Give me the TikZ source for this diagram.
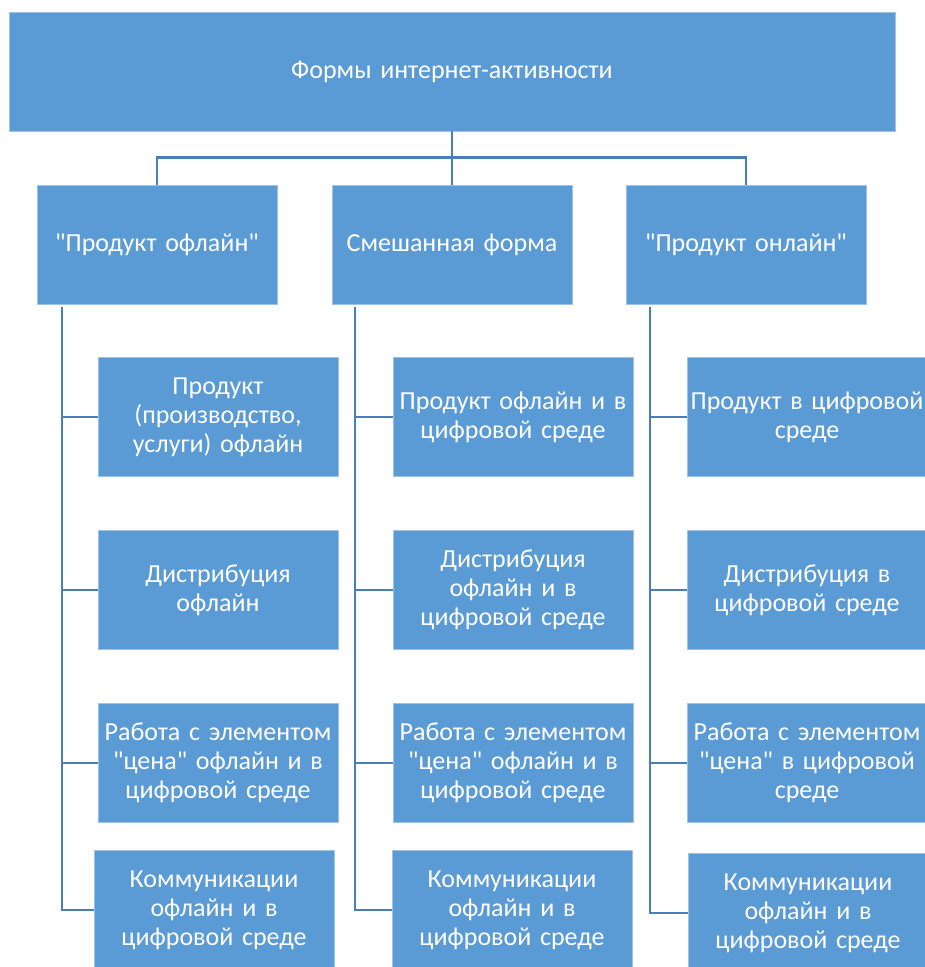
\documentclass[tikz,border=0pt]{standalone}
\usepackage{fontspec}
\setmainfont[Ligatures=TeXOff]{Carlito}
\usepackage{tikz}

\definecolor{boxblue}{HTML}{5B9BD5}
\definecolor{lineblue}{HTML}{4A7EBB}
\definecolor{edgeblue}{HTML}{9DC3E6}

\tikzset{
	block/.style={fill=boxblue, draw=edgeblue, line width=0.8pt, text=white,
		minimum width=240pt, minimum height=119pt, text width=238pt,
		inner sep=0pt, align=center, font=\fontsize{26}{29}\selectfont},
	tree/.style={draw=lineblue, line width=2.6pt}
}

\begin{document}
\begin{tikzpicture}[x=1pt, y=-1pt]
	\useasboundingbox (0,0) rectangle (925,967);
	\fill[white] (0,0) rectangle (925,967);

	% root and the three forms
	\node[block, minimum width=886pt, text width=880pt] (top) at (452,71.5) {Формы интернет-активности};
	\node[block] (off) at (157,244.5) {"Продукт офлайн"};
	\node[block] (mix) at (452,244.5) {Смешанная форма};
	\node[block] (on)  at (746,244.5) {"Продукт онлайн"};

	\foreach \n in {off,mix,on}
		\draw[tree] (top.south) -- ++(0,26) -| (\n.north);

	% offline column
	\node[block] (off1) at (218,417) {Продукт\\(производство,\\услуги) офлайн};
	\node[block] (off2) at (218,590) {Дистрибуция\\офлайн};
	\node[block] (off3) at (218,763) {Работа с элементом\\"цена" офлайн и в\\цифровой среде};
	\node[block] (off4) at (214,910) {Коммуникации\\офлайн и в\\цифровой среде};

	% mixed column
	\node[block] (mix1) at (513,417) {Продукт офлайн и в\\цифровой среде};
	\node[block] (mix2) at (513,590) {Дистрибуция\\офлайн и в\\цифровой среде};
	\node[block] (mix3) at (513,763) {Работа с элементом\\"цена" офлайн и в\\цифровой среде};
	\node[block] (mix4) at (512,910) {Коммуникации\\офлайн и в\\цифровой среде};

	% online column
	\node[block] (on1) at (807,417) {Продукт в цифровой\\среде};
	\node[block] (on2) at (807,590) {Дистрибуция в\\цифровой среде};
	\node[block] (on3) at (807,763) {Работа с элементом\\"цена" в цифровой\\среде};
	\node[block] (on4) at (808,913) {Коммуникации\\офлайн и в\\цифровой среде};

	% trunks and branches
	\foreach \n/\dx in {off/-95, mix/-97, on/-96} {
		\coordinate (\n trunk) at ([xshift=\dx pt, yshift=-3pt]\n.south);
		\draw[tree] (\n trunk) |- (\n4.west);
		\foreach \i in {1,2,3}
			\draw[tree] (\n\i.west) -- (\n\i.west -| \n trunk);
	}

\end{tikzpicture}
\end{document}
